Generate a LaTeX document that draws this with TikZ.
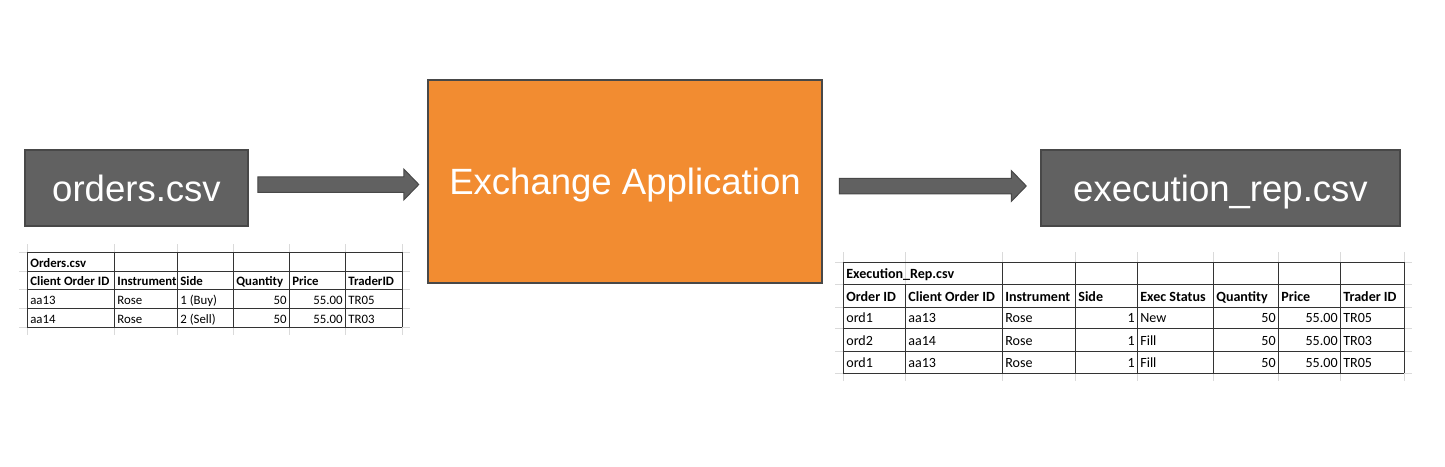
\documentclass[tikz,border=0pt]{standalone}
\usepackage{fontspec}
\setmainfont{Liberation Sans}
\newfontfamily\tblfamily{Carlito}
\usepackage{tikz}
\usetikzlibrary{calc,positioning}

\definecolor{boxgray}{RGB}{97,97,97}
\definecolor{boxedge}{RGB}{72,72,72}
\definecolor{apporange}{RGB}{242,140,49}
\definecolor{gridfaint}{RGB}{218,218,218}

\tikzset{
  filebox/.style={draw=boxedge, fill=boxgray, line width=0.03cm, text=white,
    minimum width=#1, minimum height=76*0.02cm, inner sep=0pt, text depth=0pt,
    font=\fontsize{20.8}{24}\selectfont},
  appbox/.style={draw=boxedge, fill=apporange, line width=0.05cm, text=white,
    minimum width=394*0.02cm, minimum height=203*0.02cm, inner sep=0pt, text depth=0pt,
    font=\fontsize{20.8}{24}\selectfont},
  arrowbody/.style={fill=boxgray, draw=boxedge, line width=0.02cm},
  cellgrid/.style={draw=black!80, line width=0.02cm},
  faintgrid/.style={draw=gridfaint, line width=0.02cm},
  cell/.style={anchor=base west, inner sep=0pt},
  numcell/.style={anchor=base east, inner sep=0pt},
  hdr/.style={cell, execute at begin node=\bfseries},
}

% block arrow from #1 to its tip #2
\newcommand{\fatarrow}[2]{%
  \filldraw[arrowbody] ($(#1)+(0,-7.75)$) -- ($(#2)+(-15,-7.75)$)
    -- ($(#2)+(-15,-15.5)$) -- (#2) -- ($(#2)+(-15,15.5)$)
    -- ($(#2)+(-15,7.75)$) -- ($(#1)+(0,7.75)$) -- cycle;}

\begin{document}
\begin{tikzpicture}[x=0.02cm, y=-0.02cm]
    \useasboundingbox (0,0) rectangle (1445,467);

    % the three blocks
    \node[filebox=223*0.02cm] (orders) at (136.5,188) {orders.csv};
    \node[appbox] (exch) at (625,181.5) {Exchange Application};
    \node[filebox=359*0.02cm] (execrep) at (1220.5,188) {execution\_rep.csv};

    % arrows between them
    \path (orders.east) ++(9,-3.5) coordinate (a1s);
    \path (a1s -| exch.west) ++(-8,0) coordinate (a1e);
    \path (exch.east) ++(16,4.5) coordinate (a2s);
    \path (a2s -| execrep.west) ++(-14,0) coordinate (a2e);
    \fatarrow{a1s}{a1e}
    \fatarrow{a2s}{a2e}

    % orders sheet
    \begin{scope}[font=\tblfamily\fontsize{7.3}{9}\selectfont]
    \foreach \x in {27,114,177,233,289,345,402} {
        \draw[faintgrid] (\x,244) -- (\x,335);
    }
    \foreach \y in {252,271,289,308,327} {
        \draw[faintgrid] (19,\y) -- (410,\y);
        \draw[cellgrid] (27,\y) -- (402,\y);
    }
    \foreach \x in {27,114,177,233,289,345,402} {
        \draw[cellgrid] (\x,252) -- (\x,327);
    }
    \node[hdr] (ord-title) at (30,267) {Orders.csv};
    \foreach \x/\h [count=\i] in {27/Client Order ID,114/Instrument,177/Side,233/Quantity,289/Price,345/TraderID}
        \node[hdr] (ord-h\i) at (\x+3,285) {\h};
    \foreach \y/\id/\side/\tr [count=\r] in {304/aa13/{1 (Buy)}/TR05, 323/aa14/{2 (Sell)}/TR03} {
        \node[cell] (ord-\r-1) at (30,\y) {\id};
        \node[cell] (ord-\r-2) at (117,\y) {Rose};
        \node[cell] (ord-\r-3) at (180,\y) {\side};
        \node[numcell] (ord-\r-4) at (287,\y) {50};
        \node[numcell] (ord-\r-5) at (343,\y) {55.00};
        \node[cell] (ord-\r-6) at (348,\y) {\tr};
    }
    \end{scope}

    % execution report sheet
    \begin{scope}[font=\tblfamily\fontsize{8}{10}\selectfont]
    \foreach \x in {843,905,1002,1075,1137,1213,1278,1340,1404} {
        \draw[faintgrid] (\x,252) -- (\x,381);
    }
    \foreach \y in {262,284,307,328,351,373} {
        \draw[faintgrid] (835,\y) -- (1412,\y);
        \draw[cellgrid] (843,\y) -- (1404,\y);
    }
    % title overflows the first column, so no line there in the top row
    \foreach \x in {843,1002,1075,1137,1213,1278,1340,1404} {
        \draw[cellgrid] (\x,262) -- (\x,284);
    }
    \foreach \x in {843,905,1002,1075,1137,1213,1278,1340,1404} {
        \draw[cellgrid] (\x,284) -- (\x,373);
    }
    \node[hdr] (rep-title) at (846,278) {Execution\_Rep.csv};
    \foreach \x/\h [count=\i] in {843/Order ID,905/Client Order ID,1002/Instrument,1075/Side,1137/Exec Status,1213/Quantity,1278/Price,1340/Trader ID}
        \node[hdr] (rep-h\i) at (\x+3,301) {\h};
    \foreach \y/\oid/\id/\st/\tr [count=\r] in {322/ord1/aa13/New/TR05, 345/ord2/aa14/Fill/TR03, 367/ord1/aa13/Fill/TR05} {
        \node[cell] (rep-\r-1) at (846,\y) {\oid};
        \node[cell] (rep-\r-2) at (908,\y) {\id};
        \node[cell] (rep-\r-3) at (1005,\y) {Rose};
        \node[numcell] (rep-\r-4) at (1135,\y) {1};
        \node[cell] (rep-\r-5) at (1140,\y) {\st};
        \node[numcell] (rep-\r-6) at (1276,\y) {50};
        \node[numcell] (rep-\r-7) at (1338,\y) {55.00};
        \node[cell] (rep-\r-8) at (1343,\y) {\tr};
    }
    \end{scope}

\end{tikzpicture}
\end{document}
